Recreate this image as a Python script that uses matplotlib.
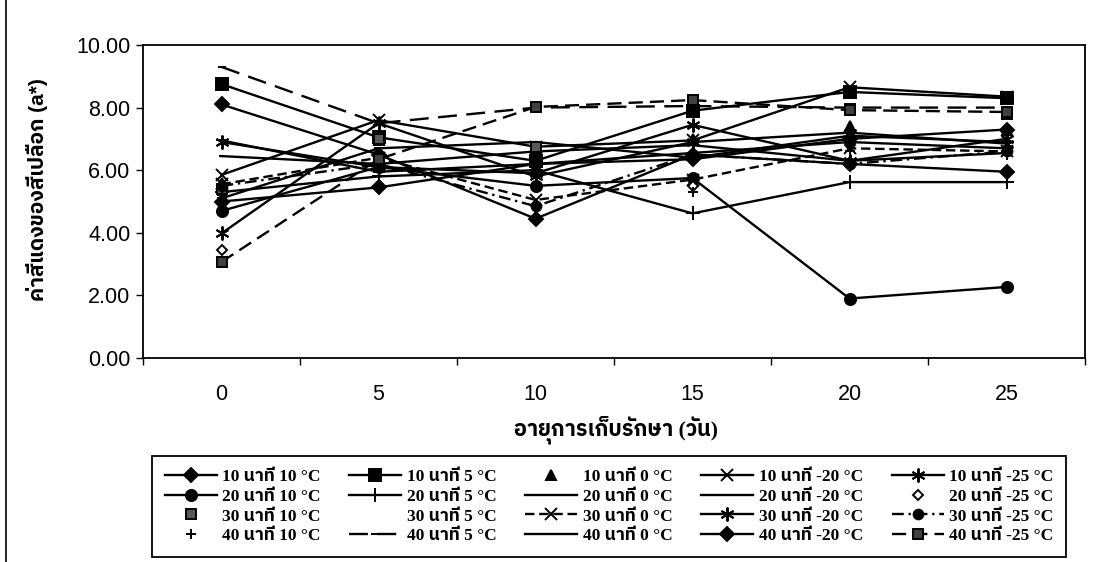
import matplotlib
matplotlib.use("Agg")
import matplotlib.pyplot as plt
from matplotlib import font_manager
from matplotlib.ft2font import FT2Font
from matplotlib.lines import Line2D

# ---------------- data ----------------
days = ["0", "5", "10", "15", "20", "25"]
minutes = ["10", "20", "30", "40"]
temps = ["10", "5", "0", "-20", "-25"]

s_10_10 = [8.10, 6.50, 4.45, 6.50, 6.20, 5.95]
s_10_5 = [8.75, 7.05, 6.30, 7.90, 8.50, 8.30]
s_10_0 = [5.60, 6.95, 6.70, 7.00, 7.40, 7.30]
s_10_m20 = [5.85, 7.60, 6.75, 6.95, 8.65, 8.35]
s_10_m25 = [6.90, 6.10, 5.90, 7.45, 6.30, 7.00]
s_20_10 = [4.70, 6.10, 5.50, 5.75, 1.90, 2.27]
s_20_5 = [5.30, 5.80, 6.00, 4.62, 5.62, 5.62]
s_20_0 = [6.45, 6.20, 6.60, 6.80, 6.30, 6.55]
s_20_m20 = [5.10, 6.70, 6.90, 6.40, 7.10, 6.90]
s_20_m25 = [3.46, 6.40, 6.10, 5.50, 6.80, 6.60]
s_30_10 = [5.40, 7.00, 6.75, 8.20, 7.95, 7.80]
s_30_5 = [5.20, 5.90, 6.30, 6.60, 6.50, 6.70]
s_30_0 = [5.55, 6.40, 5.05, 5.70, 6.70, 6.60]
s_30_m20 = [3.98, 7.50, 5.80, 6.90, 7.20, 6.85]
s_30_m25 = [5.50, 6.20, 4.85, 6.50, 6.20, 6.60]
s_40_10 = [5.20, 5.50, 4.80, 5.30, 6.60, 6.50]
s_40_5 = [9.30, 7.50, 8.00, 8.05, 8.00, 8.00]
s_40_0 = [6.95, 5.95, 6.20, 6.55, 6.90, 6.70]
s_40_m20 = [5.00, 5.45, 6.20, 6.35, 7.00, 7.30]
s_40_m25 = [3.07, 6.35, 8.02, 8.24, 7.92, 7.86]

series = {
    ("10", "10"): s_10_10, ("10", "5"): s_10_5, ("10", "0"): s_10_0,
    ("10", "-20"): s_10_m20, ("10", "-25"): s_10_m25,
    ("20", "10"): s_20_10, ("20", "5"): s_20_5, ("20", "0"): s_20_0,
    ("20", "-20"): s_20_m20, ("20", "-25"): s_20_m25,
    ("30", "10"): s_30_10, ("30", "5"): s_30_5, ("30", "0"): s_30_0,
    ("30", "-20"): s_30_m20, ("30", "-25"): s_30_m25,
    ("40", "10"): s_40_10, ("40", "5"): s_40_5, ("40", "0"): s_40_0,
    ("40", "-20"): s_40_m20, ("40", "-25"): s_40_m25,
}

# styles: (linestyle, marker, markersize, markerfacecolor)
styles = {
    ("10", "10"): ("-", "D", 7, "black"),
    ("10", "5"): ("-", "s", 8, "black"),
    ("10", "0"): ("none", "^", 7, "black"),
    ("10", "-20"): ("-", "x", 9, "black"),
    ("10", "-25"): ("-", (6, 2, 0), 10, "black"),
    ("20", "10"): ("-", "o", 8, "black"),
    ("20", "5"): ("-", "+", 10, "black"),
    ("20", "0"): ("-", "_", 5, "black"),
    ("20", "-20"): ("-", "_", 7, "black"),
    ("20", "-25"): ("none", "D", 5, "white"),
    ("30", "10"): ("none", "s", 7, "0.35"),
    ("30", "5"): ("none", "None", 1, "black"),
    ("30", "0"): ((0, (4, 2)), "x", 8, "black"),
    ("30", "-20"): ("-", (6, 2, 0), 10, "black"),
    ("30", "-25"): ((0, (5, 2, 1, 2)), "o", 7, "black"),
    ("40", "10"): ("none", "+", 7, "black"),
    ("40", "5"): ((0, (8, 4)), "_", 6, "black"),
    ("40", "0"): ("-", "_", 8, "black"),
    ("40", "-20"): ("-", "D", 7, "black"),
    ("40", "-25"): ((0, (6, 3)), "s", 7, "0.25"),
}

# ---------------- fonts ----------------
def find_thai_family():
    prefs = []
    others = []
    for f in font_manager.fontManager.ttflist:
        try:
            cmap = FT2Font(f.fname).get_charmap()
        except Exception:
            continue
        if 0x0E19 in cmap and 0x0E32 in cmap:
            if "thai" in f.name.lower():
                prefs.append(f.name)
            else:
                others.append(f.name)
    for lst in (prefs, others):
        if lst:
            return lst[0]
    return None

thai = find_thai_family()
sans_fam = ["Liberation Sans"] + ([thai] if thai else []) + ["DejaVu Sans"]
serif_fam = ["Liberation Serif"] + ([thai] if thai else []) + ["DejaVu Sans"]
plt.rcParams["font.family"] = sans_fam

# ---------------- figure ----------------
fig = plt.figure(figsize=(10.96, 5.62), dpi=100)
ax = fig.add_axes([143 / 1096, 1 - 358 / 562, (1085 - 143) / 1096, (358 - 45) / 562])

x = list(range(len(days)))
handles = {}
for key, vals in series.items():
    ls, mk, ms, mfc = styles[key]
    lw = 1.7 if ls != "none" else 0
    (h,) = ax.plot(x, vals, linestyle=ls if ls != "none" else "None", color="black",
                   linewidth=lw, marker=mk, markersize=ms, markerfacecolor=mfc,
                   markeredgecolor="black", markeredgewidth=1.4,
                   label=f"{key[0]} นาที {key[1]} °C")
    handles[key] = h

ax.set_xlim(-0.5, len(days) - 0.5)
ax.set_ylim(0, 10)
ax.set_yticks([0, 2, 4, 6, 8, 10])
ax.set_yticklabels([f"{v:.2f}" for v in [0, 2, 4, 6, 8, 10]], fontsize=15.5)
ax.set_xticks([i - 0.5 for i in range(len(days) + 1)])
ax.set_xticklabels([])
ax.set_xticks(x, minor=True)
ax.set_xticklabels(days, minor=True, fontsize=15.5)
ax.tick_params(axis="x", which="minor", length=0, pad=19)
ax.tick_params(axis="x", which="major", length=5, direction="out", width=1)
ax.tick_params(axis="y", length=5, direction="out", width=1, pad=4)
for sp in ax.spines.values():
    sp.set_linewidth(1.3)

fig.text(37 / 1096, 1 - 190 / 562, "ค่าสีแดงของสีเปลือก (a*)", rotation=90,
         ha="center", va="center", fontsize=15, fontweight="bold", family=sans_fam)
fig.text(616 / 1096, 1 - 430 / 562, "อายุการเก็บรักษา (วัน)", ha="center", va="center",
         fontsize=15.5, fontweight="bold", family=serif_fam)

# legend ordered so rows = minutes, columns = temperatures
order_h = []
order_l = []
for t in temps:
    for m in minutes:
        order_h.append(handles[(m, t)])
        order_l.append(handles[(m, t)].get_label())
leg = fig.legend(order_h, order_l, ncol=5, loc="upper left",
                 bbox_to_anchor=(143 / 1096, 1 - 448 / 562, (1075 - 143) / 1096, 0.001),
                 mode="expand", frameon=True, fancybox=False, edgecolor="black",
                 framealpha=1, handlelength=3.0, handletextpad=0.3,
                 borderpad=0.75, labelspacing=0.2,
                 prop={"family": serif_fam, "weight": "bold", "size": 12.5})
leg.get_frame().set_linewidth(1.3)

# outer frame line on the left
fig.add_artist(Line2D([6 / 1096, 6 / 1096], [0, 1], transform=fig.transFigure,
                      color="black", linewidth=1.2))

fig.savefig("out.png", dpi=100)
